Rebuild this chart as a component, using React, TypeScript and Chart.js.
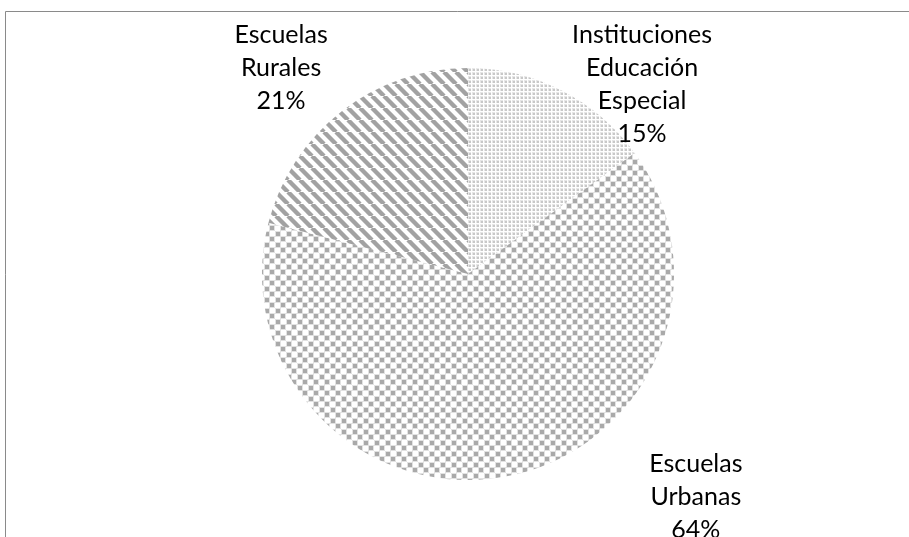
import React, { useEffect, useRef } from "react";
import { Chart, registerables } from "chart.js";

Chart.register(...registerables);

const categories = ["Instituciones Educación Especial", "Escuelas Urbanas", "Escuelas Rurales"];
const labelLines = [
  ["Instituciones", "Educación", "Especial"],
  ["Escuelas", "Urbanas"],
  ["Escuelas", "Rurales"],
];
const values = [15, 64, 21];
const percentLabels = ["15%", "64%", "21%"];

function dotPattern(): CanvasPattern | string {
  const c = document.createElement("canvas");
  c.width = 4;
  c.height = 4;
  const x = c.getContext("2d")!;
  x.fillStyle = "#ffffff";
  x.fillRect(0, 0, 4, 4);
  x.fillStyle = "#e6e6e6";
  x.fillRect(0, 0, 3, 3);
  x.fillStyle = "#c8c8c8";
  x.fillRect(1, 1, 2, 2);
  return x.createPattern(c, "repeat") || "#ddd";
}

function squarePattern(): CanvasPattern | string {
  const s = 11;
  const c = document.createElement("canvas");
  c.width = s;
  c.height = s;
  const x = c.getContext("2d")!;
  x.fillStyle = "#ffffff";
  x.fillRect(0, 0, s, s);
  x.fillStyle = "#e2e2e2";
  x.fillRect(0, 0, 6, 6);
  x.fillRect(5, 5, 6, 6);
  x.fillStyle = "#a9a9a9";
  x.fillRect(1, 1, 4, 4);
  x.fillRect(6, 6, 4, 4);
  return x.createPattern(c, "repeat") || "#bbb";
}

function stripePattern(): CanvasPattern | string {
  const s = 12;
  const c = document.createElement("canvas");
  c.width = s;
  c.height = s;
  const x = c.getContext("2d")!;
  x.fillStyle = "#ffffff";
  x.fillRect(0, 0, s, s);
  x.strokeStyle = "#a2a2a2";
  x.lineWidth = 4.4;
  for (const o of [-s, 0, s]) {
    x.beginPath();
    x.moveTo(o, 0);
    x.lineTo(o + s, s);
    x.stroke();
  }
  return x.createPattern(c, "repeat") || "#aaa";
}

const labelPlugin = {
  id: "outerLabels",
  afterDraw(chart: any) {
    const ctx = chart.ctx;
    const meta = chart.getDatasetMeta(0);
    const cfg = chart.options.plugins.outerLabels;
    ctx.save();
    ctx.font = cfg.font;
    ctx.fillStyle = cfg.color;
    ctx.textAlign = "center";
    ctx.textBaseline = "middle";
    meta.data.forEach((arc: any, i: number) => {
      const p = arc.getProps(["x", "y", "outerRadius"], true);
      const ang = (cfg.angles[i] * Math.PI) / 180;
      const dist = p.outerRadius * cfg.radii[i];
      const cx = p.x + Math.sin(ang) * dist;
      const cy = p.y - Math.cos(ang) * dist;
      const lines = [...labelLines[i], percentLabels[i]];
      const lh = cfg.lineHeight;
      const top = cy - ((lines.length - 1) * lh) / 2;
      lines.forEach((t, k) => ctx.fillText(t, cx, top + k * lh));
    });
    ctx.restore();
  },
};

const framePlugin = {
  id: "frame",
  beforeDraw(chart: any) {
    const ctx = chart.ctx;
    ctx.save();
    ctx.fillStyle = "#ffffff";
    ctx.fillRect(0, 0, chart.width, chart.height);
    ctx.strokeStyle = "#8a8a8a";
    ctx.lineWidth = 1;
    ctx.beginPath();
    ctx.moveTo(5.5, chart.height + 2);
    ctx.lineTo(5.5, 11.5);
    ctx.lineTo(chart.width + 2, 11.5);
    ctx.stroke();
    ctx.restore();
  },
};

export default function App() {
  const ref = useRef<HTMLCanvasElement>(null);
  useEffect(() => {
    if (!ref.current) return;
    const chart = new Chart(ref.current, {
      type: "pie",
      data: {
        labels: categories,
        datasets: [
          {
            data: values,
            backgroundColor: [dotPattern(), squarePattern(), stripePattern()] as any,
            borderWidth: 0,
          },
        ],
      },
      options: {
        responsive: false,
        animation: false,
        layout: { padding: { left: 262, right: 235, top: 68, bottom: 57 } },
        plugins: {
          legend: { display: false },
          tooltip: { enabled: false },
          outerLabels: {
            font: '25px "Lato", "Open Sans", sans-serif',
            color: "#000000",
            lineHeight: 33,
            angles: [42.5, 134.4, -42.2],
            radii: [1.251, 1.548, 1.351],
          },
        } as any,
      },
      plugins: [framePlugin, labelPlugin],
    });
    return () => chart.destroy();
  }, []);
  return (
    <div style={{ position: "fixed", left: 0, top: 0, width: 909, height: 537, background: "#fff" }}>
      <canvas ref={ref} width={909} height={537} style={{ display: "block" }} />
    </div>
  );
}
